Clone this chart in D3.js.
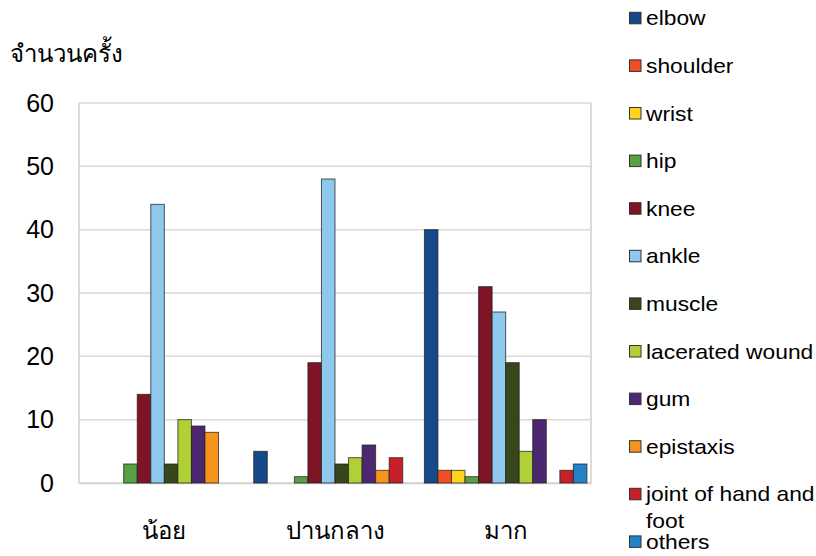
<!DOCTYPE html>
<html>
<head>
<meta charset="utf-8">
<script src="https://cdn.jsdelivr.net/npm/d3@7"></script>
<style>
  html, body { margin: 0; padding: 0; background: #fff; }
  svg { display: block; font-family: "Liberation Sans", Arial, sans-serif; }
</style>
</head>
<body>
<svg id="chart" width="816" height="556"></svg>
<script>
// Injury counts by severity level
const levels = ["น้อย", "ปานกลาง", "มาก"];
const injuries = ["elbow", "shoulder", "wrist", "hip", "knee", "ankle", "muscle",
  "lacerated wound", "gum", "epistaxis", "joint of hand and foot", "others"];
const countsLow    = [0, 0, 0, 3, 14, 44, 3, 10, 9, 8, 0, 0];
const countsMedium = [5, 0, 0, 1, 19, 48, 3, 4, 6, 2, 4, 0];
const countsHigh   = [40, 2, 2, 1, 31, 27, 19, 5, 10, 0, 2, 3];
const yTicks = [0, 10, 20, 30, 40, 50, 60];
const colors = ["#15498a", "#f04e23", "#ffd21f", "#57a044", "#7e1425", "#8ec8ec",
  "#37461b", "#b0d135", "#4b2870", "#f7941d", "#c8202a", "#2283c8"];
const yTitle = "จำนวนครั้ง";

const seriesByLevel = [countsLow, countsMedium, countsHigh];

const svg = d3.select("#chart");
const plot = { left: 79, right: 591, top: 103, bottom: 483 };

const x0 = d3.scaleBand().domain(levels).range([plot.left, plot.right]).paddingInner(0).paddingOuter(0);
const x1 = d3.scaleBand().domain(injuries).range([0, x0.bandwidth()]).paddingOuter(0.3).paddingInner(0);
const y = d3.scaleLinear().domain([0, 60]).range([plot.bottom, plot.top]);
const color = d3.scaleOrdinal().domain(injuries).range(colors);

// gridlines
svg.append("g")
  .selectAll("line")
  .data(yTicks)
  .join("line")
  .attr("x1", plot.left).attr("x2", plot.right)
  .attr("y1", d => y(d)).attr("y2", d => y(d))
  .attr("stroke", "#d9d9d9").attr("stroke-width", 1.5);

// plot frame sides
svg.append("line").attr("x1", plot.left).attr("x2", plot.left)
  .attr("y1", plot.top).attr("y2", plot.bottom).attr("stroke", "#cfcfcf").attr("stroke-width", 1.5);
svg.append("line").attr("x1", plot.right).attr("x2", plot.right)
  .attr("y1", plot.top).attr("y2", plot.bottom).attr("stroke", "#cfcfcf").attr("stroke-width", 1.5);

// y axis
const yAxis = d3.axisLeft(y).tickValues(yTicks).tickSize(0).tickPadding(25);
const gy = svg.append("g").attr("transform", `translate(${plot.left},0)`).call(yAxis);
gy.select(".domain").remove();
gy.selectAll("text").attr("font-size", 25).attr("fill", "#000")
  .attr("font-family", "Liberation Sans, Arial, sans-serif");

// x axis
const xAxis = d3.axisBottom(x0).tickSize(0).tickPadding(39);
const gx = svg.append("g").attr("transform", `translate(0,${plot.bottom})`).call(xAxis);
gx.select(".domain").attr("stroke", "#cfcfcf").attr("stroke-width", 1.5);
gx.selectAll("text").attr("font-size", 24).attr("fill", "#000")
  .attr("font-family", "Liberation Sans, Arial, sans-serif");

// bars
const groups = svg.append("g")
  .selectAll("g")
  .data(levels)
  .join("g")
  .attr("transform", d => `translate(${x0(d)},0)`);

groups.selectAll("rect")
  .data((lvl, i) => injuries.map((k, j) => ({ key: k, value: seriesByLevel[i][j] })).filter(d => d.value > 0))
  .join("rect")
  .attr("x", d => x1(d.key))
  .attr("width", x1.bandwidth())
  .attr("y", d => y(d.value))
  .attr("height", d => y(0) - y(d.value))
  .attr("fill", d => color(d.key))
  .attr("stroke", "#222")
  .attr("stroke-opacity", 0.75)
  .attr("stroke-width", 1);

// y title
svg.append("text")
  .attr("x", 10).attr("y", 62)
  .attr("font-size", 24)
  .attr("fill", "#000")
  .text(yTitle);

// legend
const legend = svg.append("g");
const legendTop = 18.3, legendStep = 47.6;
injuries.forEach((k, i) => {
  const cy = legendTop + i * legendStep;
  legend.append("rect")
    .attr("x", 629.5).attr("y", cy - 6).attr("width", 11.5).attr("height", 11.5)
    .attr("fill", color(k)).attr("stroke", "#333").attr("stroke-width", 1);
  const t = legend.append("g")
    .attr("transform", `translate(646,${cy + 7}) scale(1.14,1)`)
    .append("text")
    .attr("x", 0).attr("y", 0)
    .attr("font-size", 20).attr("fill", "#000");
  if (k === "joint of hand and foot") {
    t.append("tspan").attr("x", 0).text("joint of hand and");
    t.append("tspan").attr("x", 0).attr("dy", 27).text("foot");
  } else {
    t.text(k);
  }
});
</script>
</body>
</html>
